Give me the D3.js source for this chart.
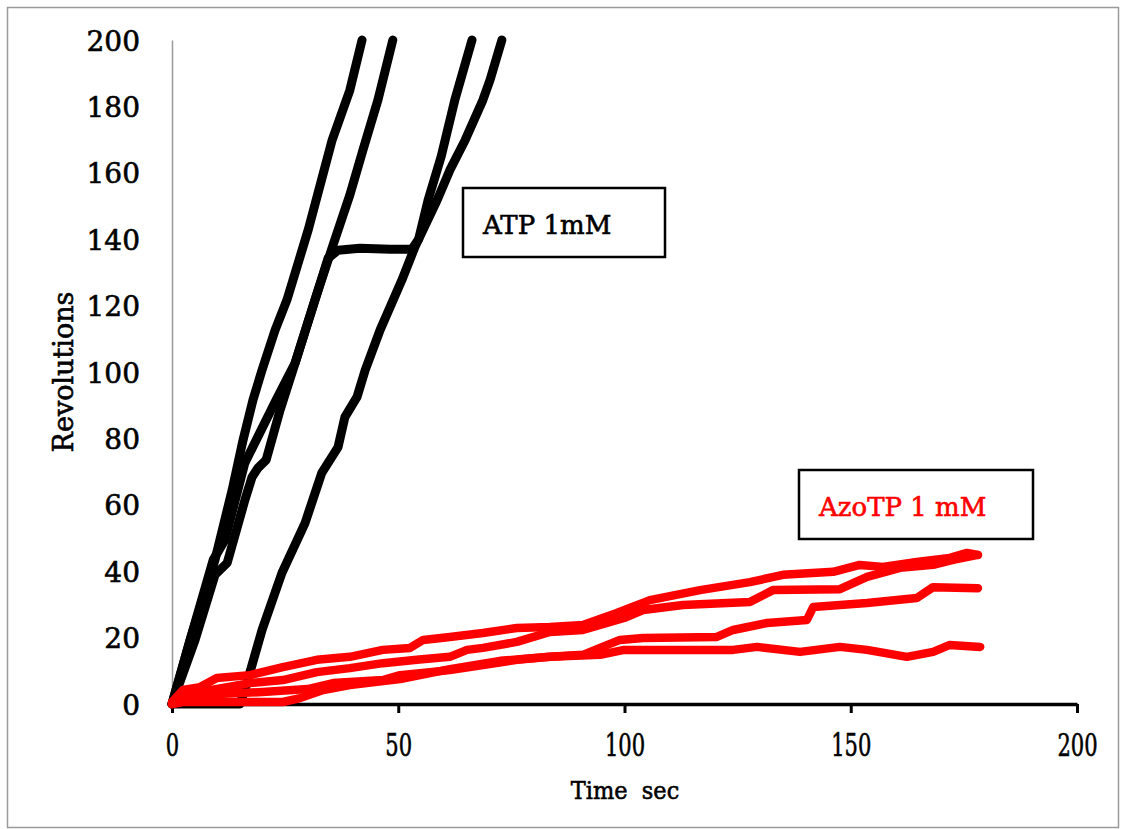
<!DOCTYPE html>
<html>
<head>
<meta charset="utf-8">
<script src="https://cdn.jsdelivr.net/npm/d3@7"></script>
<style>
  body { margin: 0; background: #fff; }
  svg { display: block; }
</style>
</head>
<body>
<script>
// ATP 1mM runs: [time sec, revolutions]
const atpRun1 = [[0,0],[4.0,19.3],[9.5,43.4],[13.3,64.5],[15.7,79.5],[17.9,91.6],[19.9,100.6],[22.8,112.7],[25.4,121.7],[30.1,142.8],[35.4,169.9],[39.3,184.9],[42.0,200]];
const atpRun2 = [[0,0],[4.0,19.3],[9.1,43.4],[11.7,49.4],[16.1,72.6],[23.0,91.6],[27.2,102.7],[31.6,121.7],[35.6,138.3],[39.3,153.3],[42.2,166.9],[45.5,181.9],[48.8,200]];
const atpRun3 = [[0,0],[5.1,19.3],[9.5,38.9],[12.2,42.5],[16.1,61.4],[17.7,68.4],[19.0,71.1],[20.8,73.5],[23.9,88.6],[27.2,102.7],[31.6,121.7],[34.5,134.3],[36.7,136.7],[41.5,137.3],[48.2,137.0],[53.0,137.0],[54.5,140.0],[56.6,151.8],[59.5,165.0],[62.5,181.9],[66.3,200]];
const atpRun4 = [[0,0],[15.0,0],[16.1,4.2],[19.9,22.3],[24.3,39.5],[29.4,54.5],[33.1,69.6],[36.7,77.4],[38.2,86.4],[40.9,92.5],[42.7,100.6],[46.0,112.7],[50.8,127.7],[53.7,137.7],[58.6,151.8],[61.4,160.8],[64.8,169.9],[68.7,181.9],[70.3,188.0],[72.9,200]];

// AzoTP 1 mM runs
const azoRun1 = [[0,0.6],[2.4,4.2],[6.2,5.1],[9.9,7.8],[17.2,8.7],[24.5,11.1],[32.0,13.3],[39.3,14.2],[46.6,16.3],[52.6,16.9],[55.5,19.3],[61.4,20.2],[68.7,21.4],[76.2,22.9],[83.5,23.2],[90.8,23.8],[98.3,27.4],[105.6,31.3],[116.7,34.3],[127.7,36.7],[135.0,38.9],[146.1,39.8],[152.0,41.9],[157.1,41.3],[164.6,42.8],[171.9,44.0],[175.7,45.5],[178.1,44.9]];
const azoRun2 = [[0,0],[2.4,2.7],[6.2,3.6],[17.2,6.3],[24.5,7.2],[32.0,9.6],[39.3,10.8],[46.6,12.3],[54.1,13.3],[61.4,14.2],[65.2,16.3],[68.7,16.9],[76.2,18.7],[83.5,21.7],[90.8,22.3],[94.6,23.8],[99.9,25.9],[104.1,28.3],[112.9,29.8],[127.7,30.7],[132.8,34.3],[147.6,34.6],[153.6,38.3],[160.9,41.0],[168.2,41.9],[172.6,43.4],[178.1,44.9]];
const azoRun3 = [[0,0],[5.0,1.8],[10.0,3.0],[20.0,3.6],[30.0,4.5],[35.6,6.3],[46.6,7.2],[50.4,8.7],[61.4,10.2],[68.7,11.7],[76.2,13.3],[83.5,14.2],[90.8,14.8],[94.6,16.9],[99.0,19.3],[104.1,19.9],[120.4,20.2],[124.0,22.3],[131.5,24.4],[140.3,25.3],[141.7,29.2],[153.6,30.4],[164.6,31.9],[168.2,35.2],[178.1,34.9]];
const azoRun4 = [[0,0],[2.4,0.6],[24.5,0.6],[28.3,1.8],[33.4,4.2],[39.3,5.7],[50.4,7.5],[61.4,10.5],[72.5,13.0],[83.5,14.2],[94.6,14.8],[99.9,16.3],[105.6,16.3],[124.0,16.3],[129.3,17.2],[138.8,15.7],[147.6,17.2],[153.6,16.3],[162.4,14.2],[168.2,15.7],[171.9,17.8],[178.6,17.2]];

const xTicks = [0, 50, 100, 150, 200];
const yTicks = [0, 20, 40, 60, 80, 100, 120, 140, 160, 180, 200];
const atpLabel = "ATP 1mM";
const azoLabel = "AzoTP 1 mM";

const width = 1123;
const height = 829;
const marginLeft = 172;
const marginRight = 46;
const marginTop = 40;
const marginBottom = 125;
const font = "'DejaVu Serif', serif";

const svg = d3.select("body").append("svg")
    .attr("width", width)
    .attr("height", height)
    .attr("viewBox", [0, 0, width, height]);

// outer frame
svg.append("rect")
    .attr("x", 7.5).attr("y", 7.5)
    .attr("width", 1111).attr("height", 820)
    .attr("fill", "#fff")
    .attr("stroke", "#9a9a9a")
    .attr("stroke-width", 1.5);

const x = d3.scaleLinear().domain([0, 200]).range([marginLeft, width - marginRight]);
const y = d3.scaleLinear().domain([0, 200]).range([height - marginBottom, marginTop]);

// heavier text, like the original's Century face
function inkText(sel, color) {
    sel.attr("fill", color)
        .attr("stroke", color)
        .attr("stroke-width", 0.6)
        .attr("font-family", font);
}

// y axis: thin grey line, no tick marks
svg.append("g")
    .attr("transform", `translate(${marginLeft},0)`)
    .call(d3.axisLeft(y).tickValues(yTicks).tickSize(0).tickPadding(32).tickSizeOuter(0))
    .call(g => g.select(".domain").attr("stroke", "#9a9a9a").attr("stroke-width", 1.5))
    .call(g => g.selectAll("text")
        .call(inkText, "#000")
        .attr("font-size", 28)
        .attr("dy", "0.36em"));

// x axis: heavy black line with downward ticks
svg.append("g")
    .attr("transform", `translate(0,${y(0)})`)
    .call(d3.axisBottom(x).tickValues(xTicks).tickSize(9).tickSizeOuter(0).tickPadding(0))
    .call(g => g.select(".domain").attr("stroke", "#000").attr("stroke-width", 3.5))
    .call(g => g.selectAll(".tick line").attr("stroke", "#000").attr("stroke-width", 3))
    .call(g => g.selectAll("text")
        .call(inkText, "#000")
        .attr("font-size", 31)
        .attr("y", 0).attr("dy", 0)
        .attr("transform", "translate(0,52) scale(0.68,1)"));

// axis titles
svg.append("text")
    .attr("transform", `translate(73,${y(100)}) rotate(-90)`)
    .attr("text-anchor", "middle")
    .attr("font-size", 27)
    .call(inkText, "#000")
    .text("Revolutions");

svg.append("text")
    .attr("x", 625)
    .attr("y", 799)
    .attr("text-anchor", "middle")
    .attr("font-size", 25)
    .attr("transform", "translate(625,0) scale(0.9,1) translate(-625,0)")
    .style("white-space", "pre")
    .call(inkText, "#000")
    .text("Time  sec");

const line = d3.line()
    .x(d => x(d[0]))
    .y(d => y(d[1]));

// ATP runs (black)
[atpRun1, atpRun2, atpRun3, atpRun4].forEach(run => {
    svg.append("path")
        .datum(run)
        .attr("fill", "none")
        .attr("stroke", "#000")
        .attr("stroke-width", 9)
        .attr("stroke-linejoin", "round")
        .attr("stroke-linecap", "round")
        .attr("d", line);
});

// AzoTP runs (red)
[azoRun1, azoRun2, azoRun3, azoRun4].forEach(run => {
    svg.append("path")
        .datum(run)
        .attr("fill", "none")
        .attr("stroke", "#ff0000")
        .attr("stroke-width", 8.5)
        .attr("stroke-linejoin", "round")
        .attr("stroke-linecap", "round")
        .attr("d", line);
});

// label boxes
function labelBox(bx, by, bw, bh, label, color) {
    svg.append("rect")
        .attr("x", bx).attr("y", by)
        .attr("width", bw).attr("height", bh)
        .attr("fill", "#fff")
        .attr("stroke", "#000")
        .attr("stroke-width", 2.5);
    svg.append("text")
        .attr("x", bx + 20)
        .attr("y", by + 46)
        .attr("font-size", 26)
        .call(inkText, color)
        .text(label);
}
labelBox(463, 188, 202, 69, atpLabel, "#000");
labelBox(799, 470, 234, 69, azoLabel, "#ff0000");
</script>
</body>
</html>
